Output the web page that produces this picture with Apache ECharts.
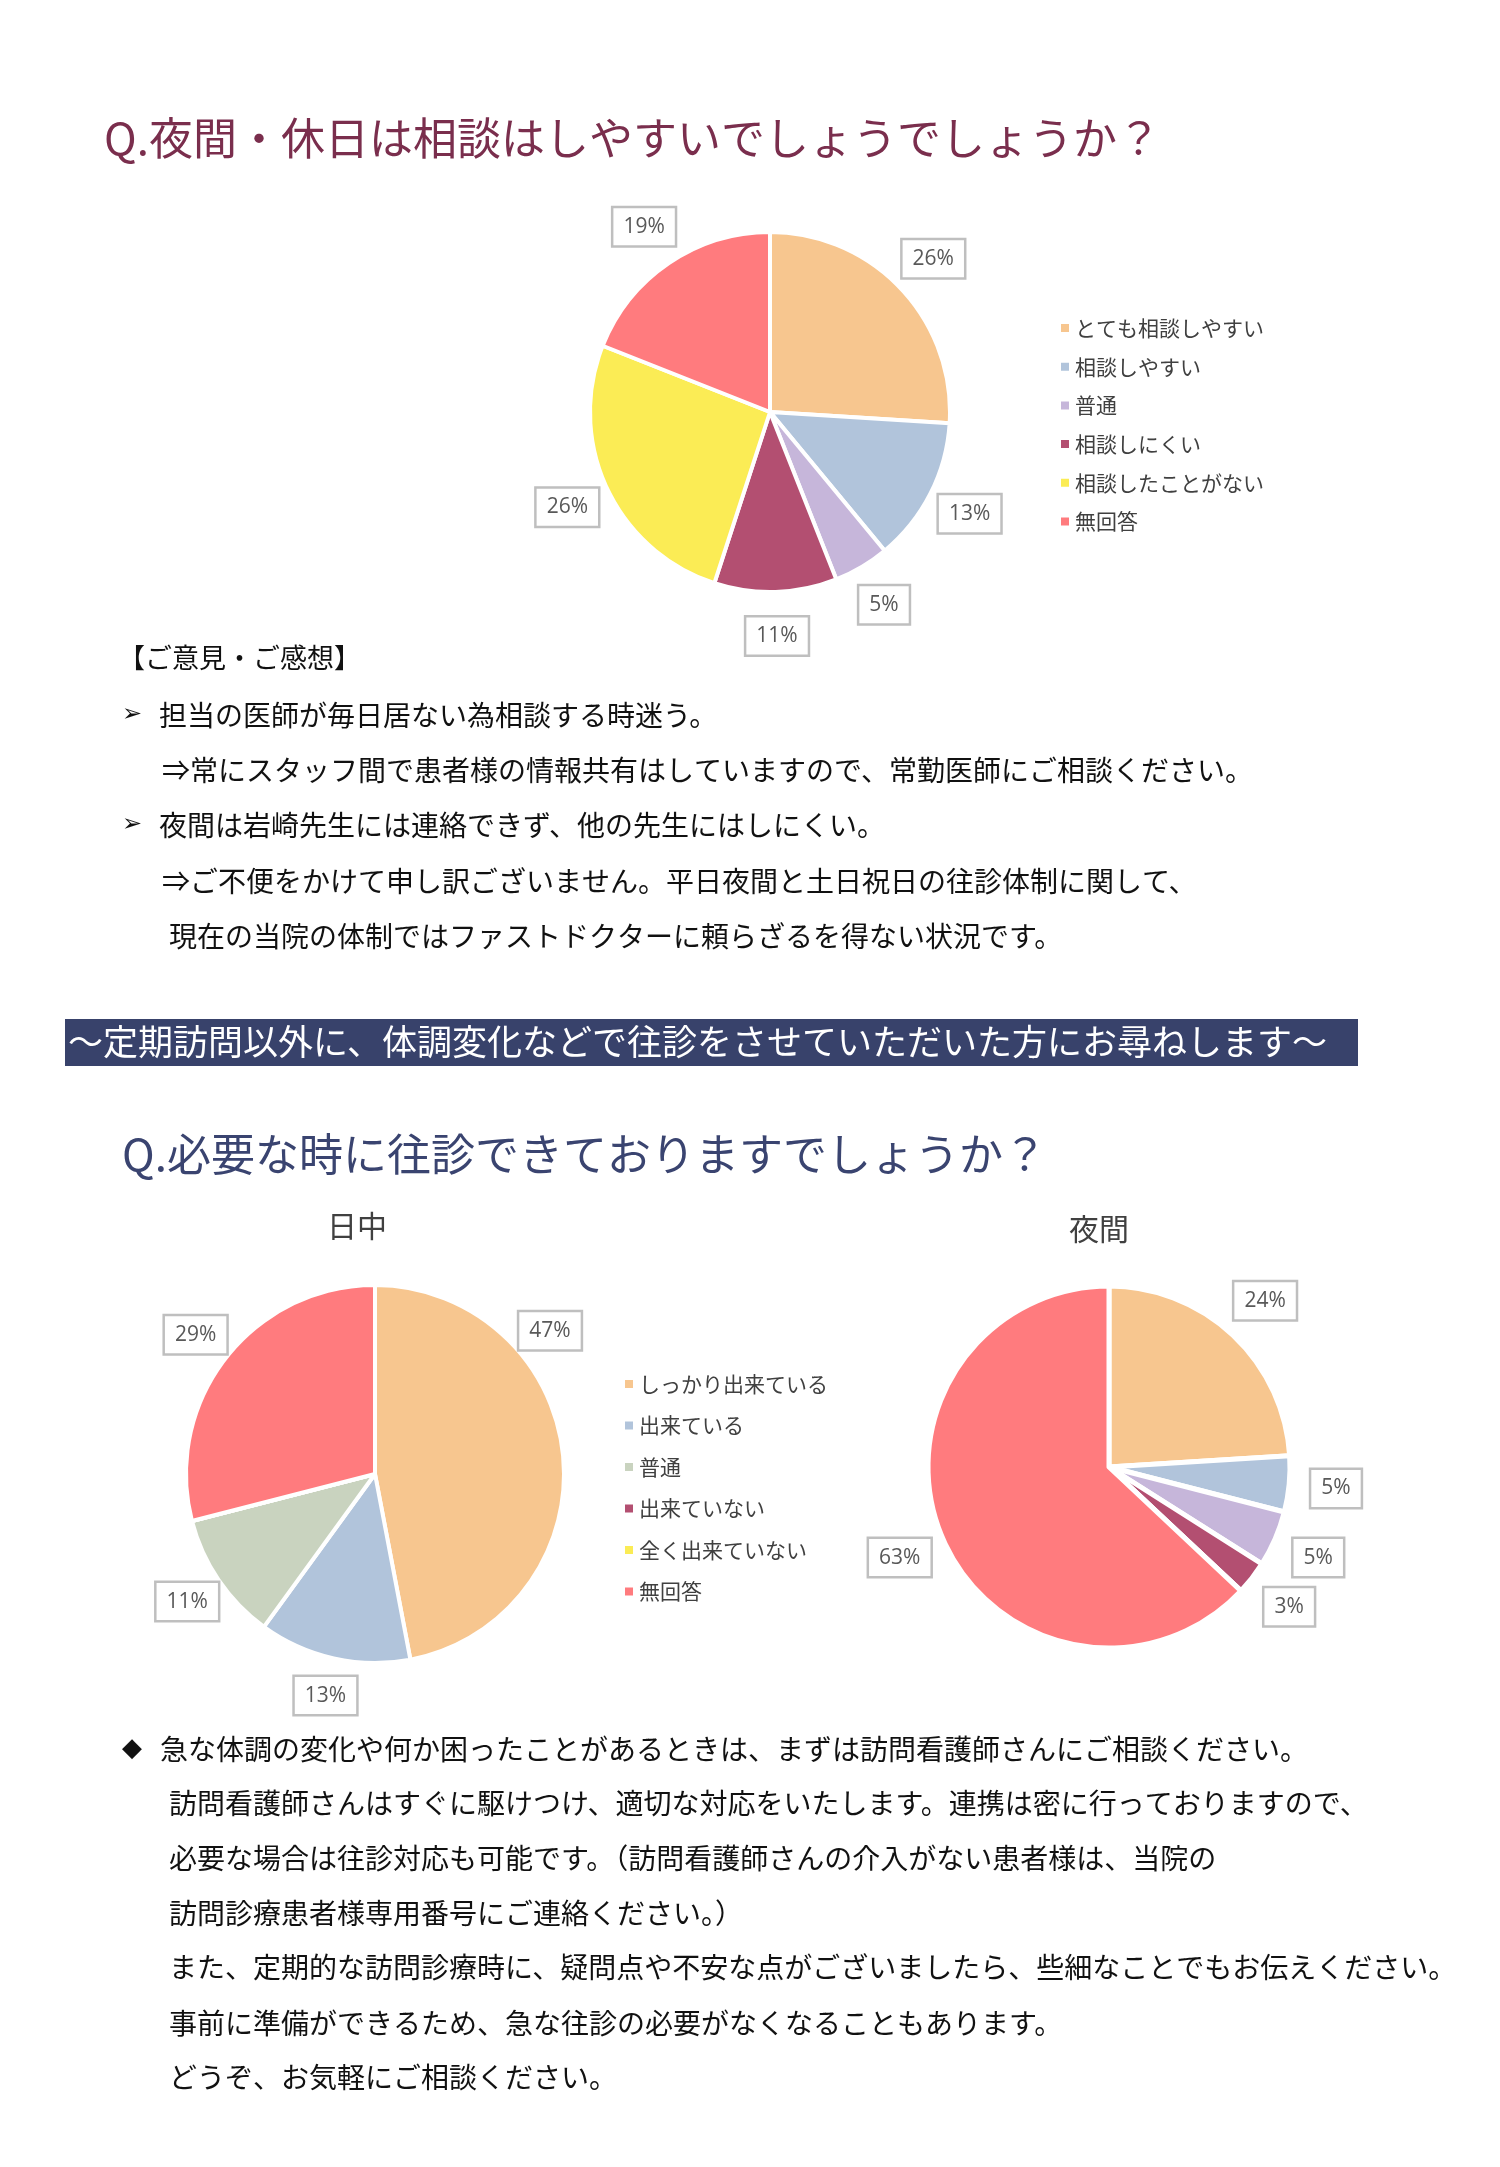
<!DOCTYPE html>
<html>
<head>
<meta charset="utf-8">
<script src="https://cdn.jsdelivr.net/npm/echarts@6/dist/echarts.min.js"></script>
<style>
html,body{margin:0;padding:0;background:#fff;}
#c{width:1500px;height:2167px;}
</style>
</head>
<body>
<div id="c"></div>
<script>
// ---------- DATA ----------
const q1Categories = ['とても相談しやすい','相談しやすい','普通','相談しにくい','相談したことがない','無回答'];
const q1Values = [26, 13, 5, 11, 26, 19];

const q2Categories = ['しっかり出来ている','出来ている','普通','出来ていない','全く出来ていない','無回答'];
const q2DayValues = [47, 13, 11, 0, 0, 29];
const q2NightValues = [24, 5, 5, 3, 0, 63];

const q1Title = 'Q.夜間・休日は相談はしやすいでしょうでしょうか？';
const q2Title = 'Q.必要な時に往診できておりますでしょうか？';
const bannerText = '～定期訪問以外に、体調変化などで往診をさせていただいた方にお尋ねします～';
const dayLabel = '日中';
const nightLabel = '夜間';
const commentHeader = '【ご意見・ご感想】';
const commentLines = [
  {bullet: '➢', text: '担当の医師が毎日居ない為相談する時迷う。'},
  {bullet: '',  text: '⇒常にスタッフ間で患者様の情報共有はしていますので、常勤医師にご相談ください。'},
  {bullet: '➢', text: '夜間は岩崎先生には連絡できず、他の先生にはしにくい。'},
  {bullet: '',  text: '⇒ご不便をかけて申し訳ございません。平日夜間と土日祝日の往診体制に関して、'},
  {bullet: '',  text: '現在の当院の体制ではファストドクターに頼らざるを得ない状況です。'}
];
const noteLines = [
  {bullet: '◆', text: '急な体調の変化や何か困ったことがあるときは、まずは訪問看護師さんにご相談ください。'},
  {bullet: '', text: '訪問看護師さんはすぐに駆けつけ、適切な対応をいたします。連携は密に行っておりますので、'},
  {bullet: '', text: '必要な場合は往診対応も可能です。（訪問看護師さんの介入がない患者様は、当院の'},
  {bullet: '', text: '訪問診療患者様専用番号にご連絡ください。）'},
  {bullet: '', text: 'また、定期的な訪問診療時に、疑問点や不安な点がございましたら、些細なことでもお伝えください。'},
  {bullet: '', text: '事前に準備ができるため、急な往診の必要がなくなることもあります。'},
  {bullet: '', text: 'どうぞ、お気軽にご相談ください。'}
];

// ---------- STYLE ----------
const q1Colors = ['#F7C68F','#B1C4DB','#C6B6DA','#B34F71','#FBEC55','#FF7B7E'];
const dayColors = ['#F7C68F','#B1C4DB','#C9D3BF','#B34F71','#FBEC55','#FF7B7E'];
const nightColors = ['#F7C68F','#B1C4DB','#C6B6DA','#B34F71','#FBEC55','#FF7B7E'];
const JP = '"Noto Sans CJK JP", "Noto Sans", sans-serif';
const LBL = '"Open Sans", "Noto Sans", sans-serif';

const chart = echarts.init(document.getElementById('c'), null, {renderer: 'canvas'});

function pieData(cats, vals, colors) {
  return cats.map((n, i) => ({name: n, value: vals[i], itemStyle: {color: colors[i]}}));
}
function labelData(cats, vals) {
  return cats.map((n, i) => ({name: n, value: vals[i], label: {show: vals[i] > 0}}));
}
const boxLabel = {
  show: true, position: 'inside', formatter: '{c}%',
  color: '#595959', fontSize: 21, lineHeight: 22, fontFamily: LBL,
  backgroundColor: '#ffffff', borderColor: '#BFBFBF', borderWidth: 2.5,
  padding: [8, 10, 7, 10]
};
function mainPie(center, r, data, bw) {
  return {
    type: 'pie', center: center, radius: [0, r], startAngle: 90, clockwise: true,
    data: data, label: {show: false}, labelLine: {show: false},
    itemStyle: {borderColor: '#ffffff', borderWidth: bw},
    emphasis: {disabled: true}, silent: true, z: 2
  };
}
function labelRing(center, r0, r1, data, layout) {
  const s = {
    type: 'pie', center: center, radius: [r0, r1], startAngle: 90, clockwise: true,
    data: data, itemStyle: {color: 'rgba(0,0,0,0)'}, label: boxLabel,
    labelLine: {show: false}, avoidLabelOverlap: false,
    emphasis: {disabled: true}, silent: true, z: 5
  };
  if (layout) s.labelLayout = layout;
  return s;
}

const graphics = [];
function txt(x, y, text, size, color, family, extra) {
  graphics.push({type: 'text', x: x, y: y, z: 10,
    style: Object.assign({text: text, fontSize: size, fill: color, fontFamily: family || JP, verticalAlign: 'middle', align: 'left'}, extra || {})});
}
// titles
txt(104, 138, q1Title, 44, '#7A2E4D');
txt(122, 1154, q2Title, 44, '#3A4470');
// comments
txt(118, 658, commentHeader, 27, '#111111');
const cY = [715, 770, 825, 881, 936];
const cX = [159, 162, 159, 162, 169];
commentLines.forEach((l, i) => {
  if (l.bullet) txt(122, cY[i], l.bullet, 24, '#111111', '"DejaVu Sans", sans-serif');
  txt(cX[i], cY[i], l.text, 28, '#111111');
});
// banner
graphics.push({type: 'rect', z: 1, shape: {x: 65, y: 1019, width: 1293, height: 47}, style: {fill: '#38426B'}});
txt(68, 1042, bannerText, 35, '#ffffff');
// sub titles
txt(357, 1226, dayLabel, 30, '#404040', JP, {align: 'center'});
txt(1099, 1229, nightLabel, 30, '#404040', JP, {align: 'center'});
// notes
const nY = [1749, 1803, 1858, 1913, 1967, 2023, 2077];
noteLines.forEach((l, i) => {
  if (l.bullet) txt(122, nY[i], l.bullet, 26, '#111111', '"DejaVu Sans", sans-serif');
  txt(i === 0 ? 160 : 169, nY[i], l.text, 28, '#111111');
});

const option = {
  backgroundColor: '#ffffff',
  animation: false,
  legend: [
    {
      orient: 'vertical', left: 1059, top: 316, padding: 0, itemWidth: 10, itemHeight: 10, itemGap: 14.7,
      icon: 'rect', selectedMode: false,
      textStyle: {fontSize: 21, color: '#404040', fontFamily: JP, lineHeight: 24},
      data: q1Categories.map((n, i) => ({name: n, itemStyle: {color: q1Colors[i]}}))
    },
    {
      orient: 'vertical', left: 623, top: 1372, padding: 0, itemWidth: 10, itemHeight: 10, itemGap: 17.5,
      icon: 'rect', selectedMode: false,
      textStyle: {fontSize: 21, color: '#404040', fontFamily: JP, lineHeight: 24},
      data: q2Categories.map((n, i) => ({name: n, itemStyle: {color: dayColors[i]}}))
    }
  ],
  graphic: graphics,
  series: [
    mainPie([770, 412], 180, pieData(q1Categories, q1Values, q1Colors), 4),
    mainPie([375, 1474], 189, pieData(q2Categories, q2DayValues, dayColors), 4),
    mainPie([1109, 1467], 181, pieData(q2Categories, q2NightValues, nightColors), 5),
    labelRing([770, 412], 200, 242, labelData(q1Categories, q1Values)),
    labelRing([375, 1474], 204, 244, labelData(q2Categories, q2DayValues), function (p) {
      if (p.dataIndex === 0) return {dx: -51, dy: -122};
    }),
    labelRing([1109, 1467], 205, 245, labelData(q2Categories, q2NightValues))
  ]
};
chart.setOption(option);
</script>
</body>
</html>
